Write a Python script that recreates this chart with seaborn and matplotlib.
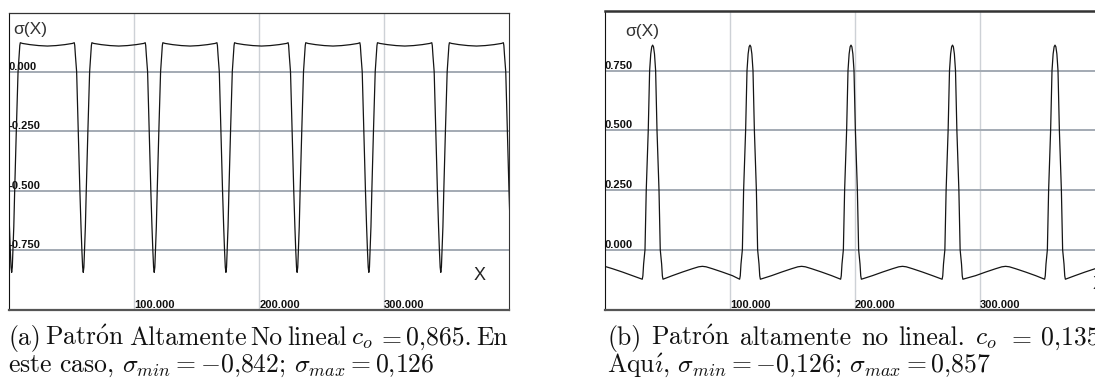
import matplotlib
matplotlib.use("Agg")
import matplotlib.pyplot as plt
import pandas as pd
import seaborn as sns

# ── Data ──────────────────────────────────────────────────────────────────────

# (a) c_o = 0.865: narrow dips on a slightly curved plateau
dip_x = [1.9, 59.2, 116.0, 173.4, 230.4, 287.8, 345.4, 402.7]
dip_dx = [-7.2, -6.8, -6.3, -5.3, -4.0, -2.7, -1.8, -1.1, -0.5, 0.0,
          0.5, 1.0, 1.7, 2.4, 3.7, 5.1, 6.0, 6.5, 6.9]
dip_sigma = [0.122, 0.110, 0.070, 0.000, -0.250, -0.500, -0.650, -0.750, -0.820, -0.842,
             -0.820, -0.750, -0.650, -0.500, -0.250, 0.000, 0.070, 0.110, 0.122]
plateau_x = [30.5, 87.6, 144.7, 201.9, 259.1, 316.6, 374.0]
plateau_dx = [-20, -14, -7, 0, 7, 14, 20]
plateau_sigma = [0.119, 0.114, 0.110, 0.108, 0.110, 0.114, 0.119]

# (b) c_o = 0.135: narrow peaks with soft bumps in between
peak_x = [38.1, 116.0, 196.8, 278.0, 360.0]
peak_dx = [-8.3, -7.8, -7.2, -6.1, -5.1, -3.5, -2.4, -1.5, -0.7, 0.0,
           0.7, 1.5, 2.4, 3.5, 5.1, 6.1, 7.2, 7.8, 8.3]
peak_sigma = [-0.124, -0.110, -0.060, 0.000, 0.250, 0.500, 0.750, 0.820, 0.850, 0.857,
              0.850, 0.820, 0.750, 0.500, 0.250, 0.000, -0.060, -0.110, -0.124]
bump_x = [-2.0, 77.9, 157.3, 238.0, 320.5, 400.0]
bump_dx = [-24, -16, -8, -3, 0, 3, 8, 16, 24]
bump_sigma = [-0.109, -0.094, -0.080, -0.072, -0.070, -0.072, -0.080, -0.094, -0.109]

yticks_a = [0.0, -0.25, -0.5, -0.75]
yticks_b = [0.75, 0.5, 0.25, 0.0]
xticks = [100, 200, 300]

caption_a1 = ["(a)", r"Patr$\mathrm{\acute{o}}$n", "Altamente", "No", "lineal",
              "$c_o$", "$=$", "0,865.", "En"]
caption_a2 = r"este caso, $\sigma_{min} = -0{,}842$; $\sigma_{max} = 0{,}126$"
caption_b1 = ["(b)", r"Patr$\mathrm{\acute{o}}$n", "altamente", "no", "lineal.",
              "$c_o$", "$=$", "0,135"]
caption_b2 = r"Aqu$\mathrm{\acute{\imath}}$, $\sigma_{min} = -0{,}126$; $\sigma_{max} = 0{,}857$"

W, H = 1095, 379


def build_curve(centres, dx, vals, centres2, dx2, vals2):
    xs, ys = [], []
    for c in centres:
        xs += [c + d for d in dx]
        ys += list(vals)
    for c in centres2:
        xs += [c + d for d in dx2]
        ys += list(vals2)
    return pd.DataFrame({"x": xs, "sigma": ys}).sort_values("x")


def px_axes(fig, left, top, right, bottom):
    return fig.add_axes([left / W, 1 - bottom / H, (right - left) / W, (bottom - top) / H])


def style_axes(ax, yticks, top_lw):
    ax.set_xlim(0, 400)
    ax.set_xticks(xticks)
    ax.set_yticks(yticks)
    ax.tick_params(length=0, labelbottom=False, labelleft=False)
    ax.set_xlabel("")
    ax.set_ylabel("")
    ax.set_axisbelow(True)
    ax.xaxis.grid(True, color="#cdd1d6", lw=1.0)
    ax.yaxis.grid(True, color="#a3aab3", lw=1.4)
    for sp in ax.spines.values():
        sp.set_visible(True)
        sp.set_color("#333333")
        sp.set_linewidth(0.8)
    ax.spines["left"].set_color("#111111")
    ax.spines["bottom"].set_color("#555555")
    ax.spines["bottom"].set_linewidth(1.6)
    ax.spines["top"].set_linewidth(top_lw)
    tick_font = dict(family=["Liberation Sans Narrow", "Liberation Sans"], stretch="condensed",
                     weight="bold", fontsize=8, color="#111111")
    for y in yticks:
        ax.text(-0.3, y, f"{y:.3f}", ha="left", va="bottom", **tick_font)
    ylo = ax.get_ylim()[0]
    for x in xticks:
        ax.text(x, ylo, f"{x:.3f}", ha="left", va="bottom", **tick_font)


def justify(fig, words, x0, x1, y, renderer, **kw):
    texts = [fig.text(0, 1 - y / H, w, **kw) for w in words]
    widths = [t.get_window_extent(renderer).width for t in texts]
    gap = (x1 - x0 - sum(widths)) / (len(words) - 1)
    x = x0
    for t, w in zip(texts, widths):
        t.set_x(x / W)
        x += w + gap


sns.set_style("white")
plt.rcParams["mathtext.fontset"] = "cm"

fig = plt.figure(figsize=(W / 100, H / 100), dpi=100)
renderer = fig.canvas.get_renderer()

# ── Panel (a) ──
ax_a = px_axes(fig, 9.3, 12.7, 509, 310)
curve_a = build_curve(dip_x, dip_dx, dip_sigma, plateau_x, plateau_dx, plateau_sigma)
sns.lineplot(data=curve_a, x="x", y="sigma", ax=ax_a, sort=False, estimator=None,
             color="#151515", lw=0.9)
ax_a.set_ylim(-1.0, 0.248)
style_axes(ax_a, yticks_a, 0.9)
ax_a.text(0.008, 0.944, "σ(X)", transform=ax_a.transAxes, ha="left", va="center",
          family="Liberation Sans", fontsize=12.5, color="#333333")
ax_a.text(0.941, 0.116, "X", transform=ax_a.transAxes, ha="center", va="center",
          family="Liberation Sans", fontsize=13, color="#222222")

# ── Panel (b) ──
ax_b = px_axes(fig, 605, 11, 1105, 310)
curve_b = build_curve(peak_x, peak_dx, peak_sigma, bump_x, bump_dx, bump_sigma)
sns.lineplot(data=curve_b, x="x", y="sigma", ax=ax_b, sort=False, estimator=None,
             color="#151515", lw=0.9)
ax_b.set_ylim(-0.253, 1.0)
style_axes(ax_b, yticks_b, 1.8)
ax_b.text(0.04, 0.933, "σ(X)", transform=ax_b.transAxes, ha="left", va="center",
          family="Liberation Sans", fontsize=12.5, color="#333333")
ax_b.text(0.976, 0.084, "X", transform=ax_b.transAxes, ha="left", va="center",
          family="Liberation Sans", fontsize=13, color="#222222")

# ── Captions (size fitted so line 2 of (a) spans 8→435 px, line 1 justified) ──
cap_font = dict(family=["cmr10", "DejaVu Serif"], color="#111111", va="baseline")
probe = fig.text(0, 0, caption_a2, fontsize=16, **cap_font)
fs = 16 * 427 / probe.get_window_extent(renderer).width
probe.remove()
cap_font["fontsize"] = fs

justify(fig, caption_a1, 8.3, 508, 345, renderer, **cap_font)
justify(fig, caption_b1, 607, 1100, 345, renderer, **cap_font)
fig.text(8.3 / W, 1 - 372 / H, caption_a2, **cap_font)
fig.text(607 / W, 1 - 372 / H, caption_b2, **cap_font)

fig.savefig("out.png", dpi=100)
